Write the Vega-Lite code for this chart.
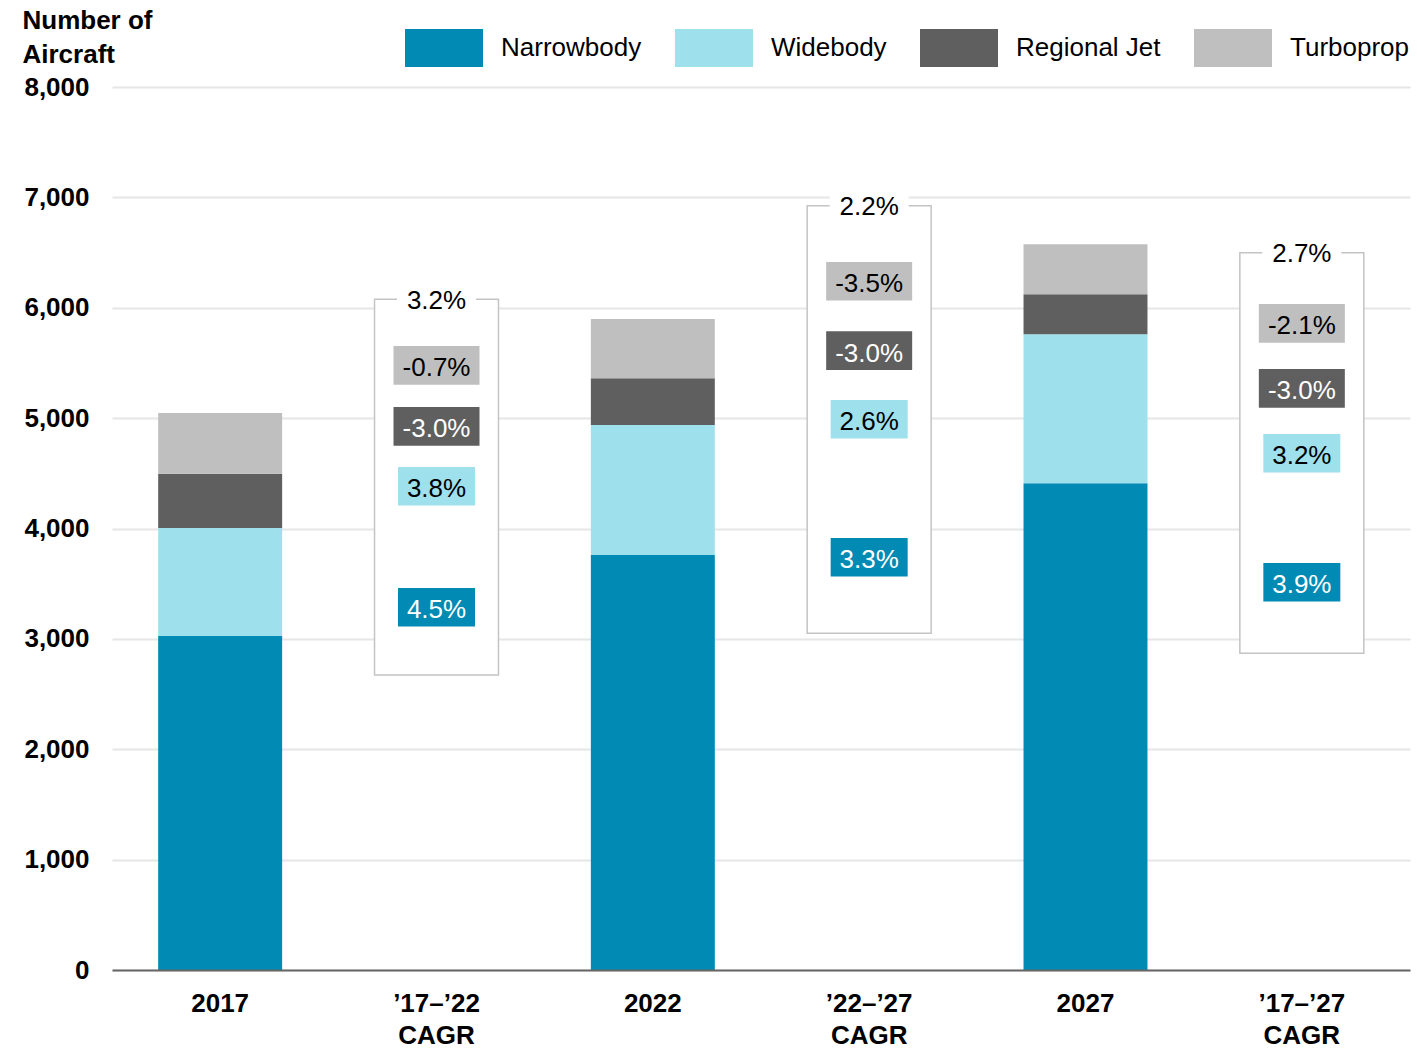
{
  "$schema": "https://vega.github.io/schema/vega-lite/v6.json",
  "width": 1298,
  "height": 883,
  "autosize": {"type": "none"},
  "padding": {"left": 112, "top": 87, "right": 7, "bottom": 79},
  "background": "white",
  "config": {"view": {"stroke": null}, "font": "Liberation Sans"},
  "datasets": {
    "bars": [
      {"cat": "2017", "type": "Narrowbody", "value": 3025},
      {"cat": "2017", "type": "Widebody", "value": 980},
      {"cat": "2017", "type": "Regional Jet", "value": 490},
      {"cat": "2017", "type": "Turboprop", "value": 552},
      {"cat": "2022", "type": "Narrowbody", "value": 3759},
      {"cat": "2022", "type": "Widebody", "value": 1178},
      {"cat": "2022", "type": "Regional Jet", "value": 425},
      {"cat": "2022", "type": "Turboprop", "value": 535},
      {"cat": "2027", "type": "Narrowbody", "value": 4411},
      {"cat": "2027", "type": "Widebody", "value": 1350},
      {"cat": "2027", "type": "Regional Jet", "value": 362},
      {"cat": "2027", "type": "Turboprop", "value": 453}
    ],
    "boxes": [
      {"cat": "’17–’22 CAGR", "top": 6077, "bottom": 2673, "total": "3.2%"},
      {"cat": "’22–’27 CAGR", "top": 6925, "bottom": 3050, "total": "2.2%"},
      {"cat": "’17–’27 CAGR", "top": 6499, "bottom": 2869, "total": "2.7%"}
    ],
    "labels": [
      {"cat": "’17–’22 CAGR", "type": "Turboprop", "label": "-0.7%", "pos": 5478},
      {"cat": "’17–’22 CAGR", "type": "Regional Jet", "label": "-3.0%", "pos": 4926},
      {"cat": "’17–’22 CAGR", "type": "Widebody", "label": "3.8%", "pos": 4382},
      {"cat": "’17–’22 CAGR", "type": "Narrowbody", "label": "4.5%", "pos": 3286},
      {"cat": "’22–’27 CAGR", "type": "Turboprop", "label": "-3.5%", "pos": 6240},
      {"cat": "’22–’27 CAGR", "type": "Regional Jet", "label": "-3.0%", "pos": 5611},
      {"cat": "’22–’27 CAGR", "type": "Widebody", "label": "2.6%", "pos": 4989},
      {"cat": "’22–’27 CAGR", "type": "Narrowbody", "label": "3.3%", "pos": 3739},
      {"cat": "’17–’27 CAGR", "type": "Turboprop", "label": "-2.1%", "pos": 5859},
      {"cat": "’17–’27 CAGR", "type": "Regional Jet", "label": "-3.0%", "pos": 5270},
      {"cat": "’17–’27 CAGR", "type": "Widebody", "label": "3.2%", "pos": 4681},
      {"cat": "’17–’27 CAGR", "type": "Narrowbody", "label": "3.9%", "pos": 3512}
    ]
  },
  "layer": [
    {
      "data": {"name": "bars"},
      "transform": [
        {"calculate": "indexof(['Narrowbody','Widebody','Regional Jet','Turboprop'], datum.type)", "as": "stackOrder"}
      ],
      "mark": {"type": "bar"},
      "encoding": {
        "x": {
          "field": "cat", "type": "nominal", "title": null,
          "scale": {"domain": ["2017", "’17–’22 CAGR", "2022", "’22–’27 CAGR", "2027", "’17–’27 CAGR"], "paddingInner": 0.427, "paddingOuter": 0.2135},
          "axis": {
            "labelAngle": 0, "labelExpr": "split(datum.label, ' ')",
            "labelFont": "Liberation Sans", "labelFontSize": 26, "labelFontWeight": "bold", "labelColor": "black",
            "labelBaseline": "top", "labelLineHeight": 32, "labelPadding": 20,
            "ticks": false, "tickSize": 0, "grid": false,
            "domain": true, "domainColor": "#666666", "domainWidth": 2, "zindex": 1
          }
        },
        "y": {
          "field": "value", "type": "quantitative", "stack": "zero", "title": ["Number of", "Aircraft"],
          "scale": {"domain": [0, 8000], "nice": false},
          "axis": {
            "values": [0, 1000, 2000, 3000, 4000, 5000, 6000, 7000, 8000], "format": ",.0f",
            "labelFont": "Liberation Sans", "labelFontSize": 26, "labelFontWeight": "bold", "labelColor": "black",
            "labelPadding": 23, "ticks": false, "tickSize": 0, "domain": false,
            "grid": true, "gridColor": "#E6E6E6", "gridWidth": 2,
            "titleAngle": 0, "titleAlign": "left", "titleBaseline": "alphabetic",
            "titleX": -90, "titleY": -59, "titleFont": "Liberation Sans", "titleFontSize": 26, "titleFontWeight": "bold",
            "titleColor": "black", "titleLineHeight": 34, "zindex": 0
          }
        },
        "color": {
          "field": "type", "type": "nominal",
          "scale": {"domain": ["Narrowbody", "Widebody", "Regional Jet", "Turboprop"], "range": ["#008AB4", "#9EE0EC", "#5F5F5F", "#BFBFBF"]},
          "legend": {
            "orient": "none", "legendX": 293, "legendY": -78, "direction": "horizontal", "title": null,
            "symbolType": "M-1,-0.487H1V0.487H-1Z", "symbolSize": 6084, "symbolStrokeWidth": 0, "symbolOpacity": 1,
            "labelFont": "Liberation Sans", "labelFontSize": 26, "labelColor": "black", "labelOffset": 18,
            "columnPadding": 33, "padding": 0, "labelLimit": 0
          }
        },
        "order": {"field": "stackOrder", "type": "quantitative", "sort": "ascending"}
      }
    },
    {
      "data": {"name": "boxes"},
      "mark": {"type": "bar", "fill": "white", "stroke": "#C4C4C4", "strokeWidth": 1.5},
      "encoding": {
        "x": {"field": "cat", "type": "nominal", "title": null, "scale": {"domain": ["2017", "’17–’22 CAGR", "2022", "’22–’27 CAGR", "2027", "’17–’27 CAGR"], "paddingInner": 0.427, "paddingOuter": 0.2135}},
        "y": {"field": "top", "type": "quantitative", "title": ["Number of", "Aircraft"], "scale": {"domain": [0, 8000], "nice": false}},
        "y2": {"field": "bottom"}
      }
    },
    {
      "data": {"name": "boxes"},
      "mark": {"type": "point", "filled": true, "fill": "white", "opacity": 1, "strokeWidth": 0, "shape": "M-1,-0.3H1V0.3H-1Z", "size": 6241},
      "encoding": {
        "x": {"field": "cat", "type": "nominal", "title": null, "scale": {"domain": ["2017", "’17–’22 CAGR", "2022", "’22–’27 CAGR", "2027", "’17–’27 CAGR"], "paddingInner": 0.427, "paddingOuter": 0.2135}},
        "y": {"field": "top", "type": "quantitative", "title": ["Number of", "Aircraft"], "scale": {"domain": [0, 8000], "nice": false}}
      }
    },
    {
      "data": {"name": "boxes"},
      "mark": {"type": "text", "font": "Liberation Sans", "fontSize": 26, "color": "black", "align": "center", "baseline": "middle", "dy": 1.5},
      "encoding": {
        "x": {"field": "cat", "type": "nominal", "title": null, "scale": {"domain": ["2017", "’17–’22 CAGR", "2022", "’22–’27 CAGR", "2027", "’17–’27 CAGR"], "paddingInner": 0.427, "paddingOuter": 0.2135}},
        "y": {"field": "top", "type": "quantitative", "title": ["Number of", "Aircraft"], "scale": {"domain": [0, 8000], "nice": false}},
        "text": {"field": "total"}
      }
    },
    {
      "data": {"name": "labels"},
      "transform": [{"filter": "indexof(datum.label, '-') == 0"}],
      "mark": {"type": "point", "filled": true, "opacity": 1, "strokeWidth": 0, "shape": "M-1,-0.45H1V0.45H-1Z", "size": 7396},
      "encoding": {
        "x": {"field": "cat", "type": "nominal", "title": null, "scale": {"domain": ["2017", "’17–’22 CAGR", "2022", "’22–’27 CAGR", "2027", "’17–’27 CAGR"], "paddingInner": 0.427, "paddingOuter": 0.2135}},
        "y": {"field": "pos", "type": "quantitative", "title": ["Number of", "Aircraft"], "scale": {"domain": [0, 8000], "nice": false}},
        "color": {"field": "type", "type": "nominal", "scale": {"domain": ["Narrowbody", "Widebody", "Regional Jet", "Turboprop"], "range": ["#008AB4", "#9EE0EC", "#5F5F5F", "#BFBFBF"]}, "legend": null}
      }
    },
    {
      "data": {"name": "labels"},
      "transform": [{"filter": "indexof(datum.label, '-') != 0"}],
      "mark": {"type": "point", "filled": true, "opacity": 1, "strokeWidth": 0, "shape": "M-1,-0.5H1V0.5H-1Z", "size": 5929},
      "encoding": {
        "x": {"field": "cat", "type": "nominal", "title": null, "scale": {"domain": ["2017", "’17–’22 CAGR", "2022", "’22–’27 CAGR", "2027", "’17–’27 CAGR"], "paddingInner": 0.427, "paddingOuter": 0.2135}},
        "y": {"field": "pos", "type": "quantitative", "title": ["Number of", "Aircraft"], "scale": {"domain": [0, 8000], "nice": false}},
        "color": {"field": "type", "type": "nominal", "scale": {"domain": ["Narrowbody", "Widebody", "Regional Jet", "Turboprop"], "range": ["#008AB4", "#9EE0EC", "#5F5F5F", "#BFBFBF"]}, "legend": null}
      }
    },
    {
      "data": {"name": "labels"},
      "mark": {"type": "text", "font": "Liberation Sans", "fontSize": 26, "align": "center", "baseline": "middle", "dy": 3},
      "encoding": {
        "x": {"field": "cat", "type": "nominal", "title": null, "scale": {"domain": ["2017", "’17–’22 CAGR", "2022", "’22–’27 CAGR", "2027", "’17–’27 CAGR"], "paddingInner": 0.427, "paddingOuter": 0.2135}},
        "y": {"field": "pos", "type": "quantitative", "title": ["Number of", "Aircraft"], "scale": {"domain": [0, 8000], "nice": false}},
        "text": {"field": "label"},
        "fill": {"field": "type", "type": "nominal", "scale": {"domain": ["Narrowbody", "Widebody", "Regional Jet", "Turboprop"], "range": ["white", "black", "white", "black"]}, "legend": null}
      }
    }
  ]
}
